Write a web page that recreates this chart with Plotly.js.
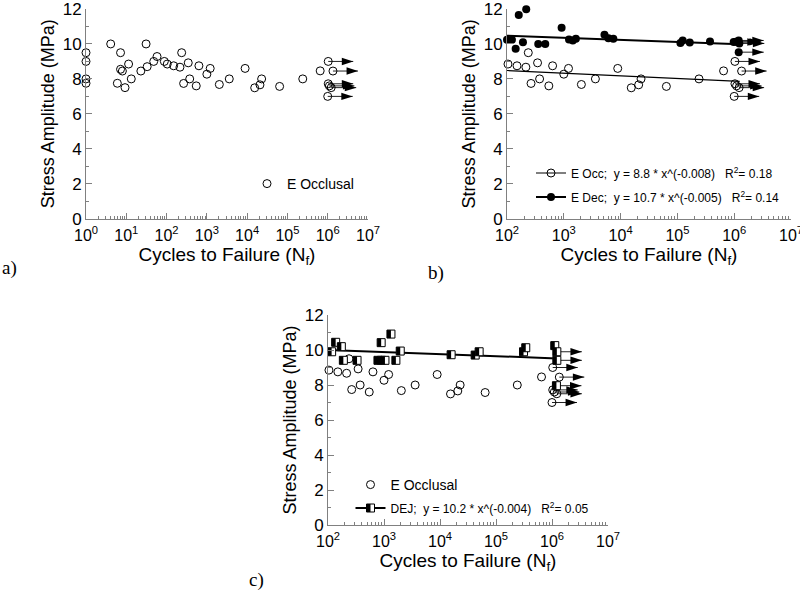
<!DOCTYPE html>
<html><head><meta charset="utf-8">
<script src="https://cdn.plot.ly/plotly-3.0.1.min.js"></script>
<style>html,body{margin:0;padding:0;background:#fff}</style>
</head><body><div id="chart" style="width:800px;height:590px"></div>
<script>
// ---- E Occlusal (open circles): failed specimens
const occX = [1, 1, 1, 1, 4.1, 6, 7.2, 7.2, 8, 9.3, 11.4, 13.3, 23, 31, 33, 48, 58, 88, 104, 150, 215, 237, 265, 345, 375, 545, 635, 1000, 1210, 2040, 3600, 8900, 15400, 20800, 22900, 64000, 240000, 650000];
const occY = [9.5, 9.0, 8.0, 7.75, 10.0, 7.75, 9.5, 8.55, 8.45, 7.5, 8.85, 8.0, 8.45, 10.0, 8.7, 9.0, 9.28, 9.0, 8.85, 8.75, 8.67, 9.5, 7.74, 8.92, 8.0, 7.6, 8.75, 8.27, 8.6, 7.68, 8.0, 8.6, 7.49, 7.66, 8.0, 7.57, 8.0, 8.46];
// E Occlusal run-outs (arrows)
const occRunX = [1.03e6, 1.35e6, 1.03e6, 1.1e6, 1.22e6, 1.0e6];
const occRunY = [9.0, 8.45, 7.72, 7.6, 7.5, 7.0];
// ---- E Dec (filled circles)
const decX = [100, 122, 142, 161, 191, 218, 355, 472, 915, 1235, 1440, 1630, 5200, 6100, 7450, 113000, 124000, 165000, 375000];
const decY = [10.24, 10.24, 9.72, 11.65, 10.1, 11.98, 9.99, 10.0, 10.93, 10.26, 10.2, 10.3, 10.53, 10.32, 10.3, 10.05, 10.2, 10.09, 10.14];
const decRunX = [0.98e6, 1.07e6, 1.2e6, 1.23e6, 1.2e6];
const decRunY = [10.11, 10.12, 10.2, 10.03, 9.53];
// ---- DEJ (half-filled squares)
const dejX = [116, 137, 173, 188, 330, 780, 900, 1040, 890, 1330, 1630, 1950, 15800, 42500, 50000, 310000, 340000, 1.12e6];
const dejY = [9.9, 10.44, 10.19, 9.41, 9.41, 9.41, 9.41, 9.41, 10.42, 10.91, 9.41, 9.94, 9.73, 9.71, 9.9, 9.9, 10.13, 10.25];
const dejRunX = [1.22e6, 1.22e6, 1.2e6];
const dejRunY = [9.9, 9.41, 7.96];
// ---- fitted power-law lines (end points)
const occFitX = [100, 1.25e6], occFitY = [8.48, 7.86];
const decFitX = [100, 1.25e6], decFitY = [10.47, 9.98];
const dejFitX = [100, 1.22e6], dejFitY = [10.0, 9.52];
// ---- ticks and texts
const decadeVals = [1, 10, 100, 1e3, 1e4, 1e5, 1e6, 1e7];
const decadeText = ['10<sup>0</sup>', '10<sup>1</sup>', '10<sup>2</sup>', '10<sup>3</sup>', '10<sup>4</sup>', '10<sup>5</sup>', '10<sup>6</sup>', '10<sup>7</sup>'];
const yTickVals = [0, 2, 4, 6, 8, 10, 12];
const nameOcclusal = 'E Occlusal';
const nameOcc = 'E Occ;\u00a0 y = 8.8 * x^(-0.008)\u00a0 \u00a0R<sup>2</sup>= 0.18';
const nameDec = 'E Dec;\u00a0 y = 10.7 * x^(-0.005)\u00a0 \u00a0R<sup>2</sup>= 0.14';
const nameDej = 'DEJ;\u00a0 y = 10.2 * x^(-0.004)\u00a0 \u00a0R<sup>2</sup>= 0.05';
const xTitle = 'Cycles to Failure (N<sub>f</sub>)';
const yTitle = 'Stress Amplitude (MPa)';
const panelLabels = ['a)', 'b)', 'c)'];

const minorVals = [];
for (let d = 0; d < 7; d++) for (let m = 2; m <= 9; m++) minorVals.push(m * Math.pow(10, d));

const FONT = 'Liberation Sans, Arial, sans-serif';
const GRAY = '#808080';
const W = 800, H = 590;
const domA = [86 / W, 368 / W], domB = [507 / W, 791 / W], domC = [328 / W, 608 / W];
const rangeA = [0, 7], rangeB = [2, 7], rangeC = [2, 7];
const ARROW_PX = 25; // arrow length in pixels

const openCircle = {symbol: 'circle-open', size: 8, color: '#000', line: {width: 1, color: '#000'}};
const filledCircle = {symbol: 'circle', size: 8, color: '#000', line: {width: 0}};
const squareBase = {symbol: 'square', size: 8, color: '#fff', line: {width: 1, color: '#000'}};
const squareHalf = {symbol: 'line-ew', size: 5.7, angle: 90, standoff: 2, color: '#000', line: {width: 4, color: '#000'}};
const squareHalfLegend = {symbol: 'line-ew', size: 5.7, angle: 270, standoff: 2, color: '#000', line: {width: 4, color: '#000'}};

const traces = [];
function pts(x, y, xa, ya, marker) {
  traces.push({type: 'scatter', mode: 'markers', x: x, y: y, xaxis: xa, yaxis: ya, marker: marker, cliponaxis: false, showlegend: false});
}
function fit(x, y, xa, ya, w) {
  traces.push({type: 'scatter', mode: 'lines', x: x, y: y, xaxis: xa, yaxis: ya, line: {color: '#000', width: w}, showlegend: false});
}
function leg(name, legend, xa, ya, mode, marker, w) {
  traces.push({type: 'scatter', mode: mode, x: [null], y: [null], xaxis: xa, yaxis: ya, name: name, legend: legend, marker: marker, line: {color: '#000', width: w}, showlegend: true});
}
// run-out arrows: shaft from the specimen point, head ARROW_PX to the right
function arrows(rx, ry, xa, ya, dom, range) {
  const decadePx = (dom[1] - dom[0]) * W / (range[1] - range[0]);
  const f = Math.pow(10, ARROW_PX / decadePx);
  const sx = [], sy = [], hx = [], hy = [];
  for (let i = 0; i < rx.length; i++) {
    sx.push(rx[i], rx[i] * f, null); sy.push(ry[i], ry[i], null);
    hx.push(rx[i] * f); hy.push(ry[i]);
  }
  traces.push({type: 'scatter', mode: 'lines', x: sx, y: sy, xaxis: xa, yaxis: ya, line: {color: '#222', width: 1}, showlegend: false, cliponaxis: false});
  traces.push({type: 'scatter', mode: 'markers', x: hx, y: hy, xaxis: xa, yaxis: ya, cliponaxis: false, showlegend: false,
    marker: {symbol: 'arrow', angle: 90, size: 12, color: '#000', line: {width: 0}}});
}

// panel a
arrows(occRunX, occRunY, 'x', 'y', domA, rangeA);
pts(occX.concat(occRunX), occY.concat(occRunY), 'x', 'y', openCircle);
leg(nameOcclusal, 'legend', 'x', 'y', 'markers', openCircle, 1);
// panel b
fit(occFitX, occFitY, 'x2', 'y2', 1.2);
fit(decFitX, decFitY, 'x2', 'y2', 2);
arrows(occRunX, occRunY, 'x2', 'y2', domB, rangeB);
arrows(decRunX, decRunY, 'x2', 'y2', domB, rangeB);
pts(occX.concat(occRunX), occY.concat(occRunY), 'x2', 'y2', openCircle);
pts(decX.concat(decRunX), decY.concat(decRunY), 'x2', 'y2', filledCircle);
leg(nameOcc, 'legend2', 'x2', 'y2', 'lines+markers', openCircle, 1.2);
leg(nameDec, 'legend3', 'x2', 'y2', 'lines+markers', filledCircle, 2);
// panel c
fit(dejFitX, dejFitY, 'x3', 'y3', 2);
arrows(occRunX, occRunY, 'x3', 'y3', domC, rangeC);
arrows(dejRunX, dejRunY, 'x3', 'y3', domC, rangeC);
pts(occX.concat(occRunX), occY.concat(occRunY), 'x3', 'y3', openCircle);
pts(dejX.concat(dejRunX), dejY.concat(dejRunY), 'x3', 'y3', squareBase);
pts(dejX.concat(dejRunX), dejY.concat(dejRunY), 'x3', 'y3', squareHalf);
leg(nameOcclusal, 'legend4', 'x3', 'y3', 'markers', openCircle, 1);
leg(nameDej, 'legend5', 'x3', 'y3', 'lines+markers', squareBase, 2);
leg('\u00a0', 'legend6', 'x3', 'y3', 'markers', squareHalfLegend, 2);

const annotations = [];
const labelPos = [[0.0, 268], [0.532, 273], [0.309, 580]];
panelLabels.forEach((t, i) => annotations.push({xref: 'paper', yref: 'paper', x: labelPos[i][0], y: 1 - labelPos[i][1] / H,
  xanchor: 'left', yanchor: 'middle', text: t, showarrow: false, font: {family: 'Liberation Serif, Times New Roman, serif', size: 19, color: '#000'}}));

function xAxis(range, domain, anchor) {
  return {type: 'log', range: range, domain: domain, anchor: anchor, tickmode: 'array', tickvals: decadeVals, ticktext: decadeText,
    ticks: 'inside', ticklen: 6, tickwidth: 1, tickcolor: GRAY, showline: true, linecolor: GRAY, linewidth: 1,
    showgrid: false, zeroline: false, ticklabelstandoff: 2, ticklabeloverflow: 'allow',
    tickfont: {family: FONT, size: 16, color: '#000'},
    minor: {tickmode: 'array', tickvals: minorVals, ticks: 'inside', ticklen: 3, tickcolor: GRAY, showgrid: false},
    title: {text: xTitle, standoff: 0, font: {family: FONT, size: 19, color: '#000'}}};
}
function yAxis(domain, anchor) {
  return {range: [0, 12], domain: domain, anchor: anchor, tickmode: 'array', tickvals: yTickVals,
    ticks: 'inside', ticklen: 6, tickwidth: 1, tickcolor: GRAY, showline: true, linecolor: GRAY, linewidth: 1,
    showgrid: false, zeroline: false, ticklabelstandoff: 0, ticklabeloverflow: 'allow',
    tickfont: {family: FONT, size: 17, color: '#000'},
    minor: {dtick: 1, ticks: 'inside', ticklen: 3, tickcolor: GRAY, showgrid: false},
    title: {text: yTitle, standoff: 3, font: {family: FONT, size: 18, color: '#000'}}};
}
const yTopDom = [1 - 218.7 / H, 1 - 9 / H];
const yBotDom = [1 - 525 / H, 1 - 315 / H];

function legendAt(xpx, ypx, size) {
  return {x: xpx / W, y: 1 - ypx / H, xanchor: 'left', yanchor: 'middle', bgcolor: 'rgba(0,0,0,0)', borderwidth: 0,
    font: {family: FONT, size: size, color: '#000'}};
}

const layout = {
  width: W, height: H, margin: {l: 0, r: 0, t: 0, b: 0}, paper_bgcolor: '#fff', plot_bgcolor: '#fff',
  font: {family: FONT, color: '#000'},
  xaxis: xAxis(rangeA, domA, 'y'),
  yaxis: yAxis(yTopDom, 'x'),
  xaxis2: xAxis(rangeB, domB, 'y2'),
  yaxis2: yAxis(yTopDom, 'x2'),
  xaxis3: xAxis(rangeC, domC, 'y3'),
  yaxis3: yAxis(yBotDom, 'x3'),
  legend: legendAt(247, 184, 14),
  legend2: legendAt(531, 173, 12),
  legend3: legendAt(531, 197, 12),
  legend4: legendAt(350.5, 485, 14),
  legend5: legendAt(350.5, 508, 12),
  legend6: legendAt(350.5, 508, 12),
  showlegend: true,
  annotations: annotations
};

Plotly.newPlot('chart', traces, layout, {staticPlot: true, displayModeBar: false});
</script>
</body></html>
